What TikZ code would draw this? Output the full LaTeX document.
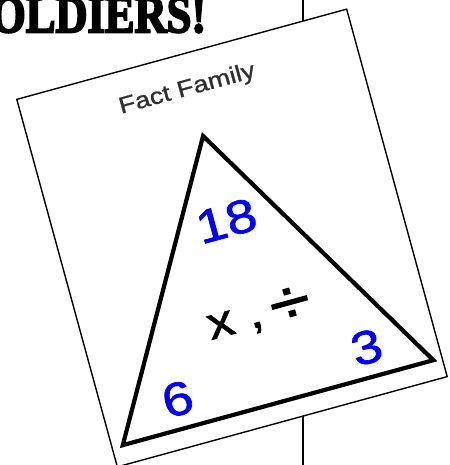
\documentclass[tikz,border=0pt]{standalone}
\usepackage{fontspec}
\usepackage{graphicx}
\setmainfont{Liberation Sans}
\newfontfamily\cardfont{Liberation Sans}[FakeBold=1.3]
\newfontfamily\capfont{Liberation Sans}[FakeBold=1.0]
\newfontfamily\titlefont{Liberation Serif}[UprightFont={* Bold}, UprightFeatures={FakeBold=4}]
\definecolor{numblue}{HTML}{0000FF}
\definecolor{capgray}{HTML}{303030}
\begin{document}
\begin{tikzpicture}[x=1pt,y=-1pt,
  cardbox/.style={draw=black, line width=1.4pt, fill=white, minimum width=342pt, minimum height=381pt, inner sep=0pt, rotate=15.3},
  rule/.style={draw=black, line width=1.3pt},
  triline/.style={draw=black, line width=4.2pt, line join=miter},
  captext/.style={inner sep=0pt, xscale=1.18, text=capgray, font=\capfont\fontsize{23}{27}\selectfont},
  numtext/.style={inner sep=0pt, xscale=1.16, text=numblue, font=\cardfont\fontsize{47}{52}\selectfont},
  optext/.style={inner sep=0pt, xscale=1.18, text=black, font=\cardfont\fontsize{45}{50}\selectfont}]
\useasboundingbox (0,0) rectangle (449,465);
\begin{scope}
\clip (0,0) rectangle (449,465);
\node[anchor=north west, inner sep=0pt] (title) at (-9,-3) {\resizebox{215pt}{35pt}{\titlefont OLDIERS!}};
\coordinate (ltop) at (303,0);
\coordinate (lbot) at (303,465);
\draw[rule] (ltop) -- (lbot);
\node[cardbox] (card) at (232,238) {};
\begin{scope}[shift={(232,238)}, rotate=15.3, transform shape]
  \coordinate (apex) at (-1,-106);
  \coordinate (bl) at (-160,171);
  \coordinate (br) at (162,171);
  \draw[triline] (apex) -- (bl) -- (br) -- cycle;
  \node[captext, anchor=base] (ff) at (-4,-149) {Fact Family};
  \node[numtext] (top) at (-1,-18) {18};
  \node[optext] (ops) at (6,81) {x ,\,\raisebox{-0.12em}{\scalebox{1.4}{÷}}};
  \node[numtext] (right) at (101,141) {3};
  \node[numtext] (left) at (-95,141) {6};
\end{scope}
\end{scope}
\end{tikzpicture}
\end{document}
